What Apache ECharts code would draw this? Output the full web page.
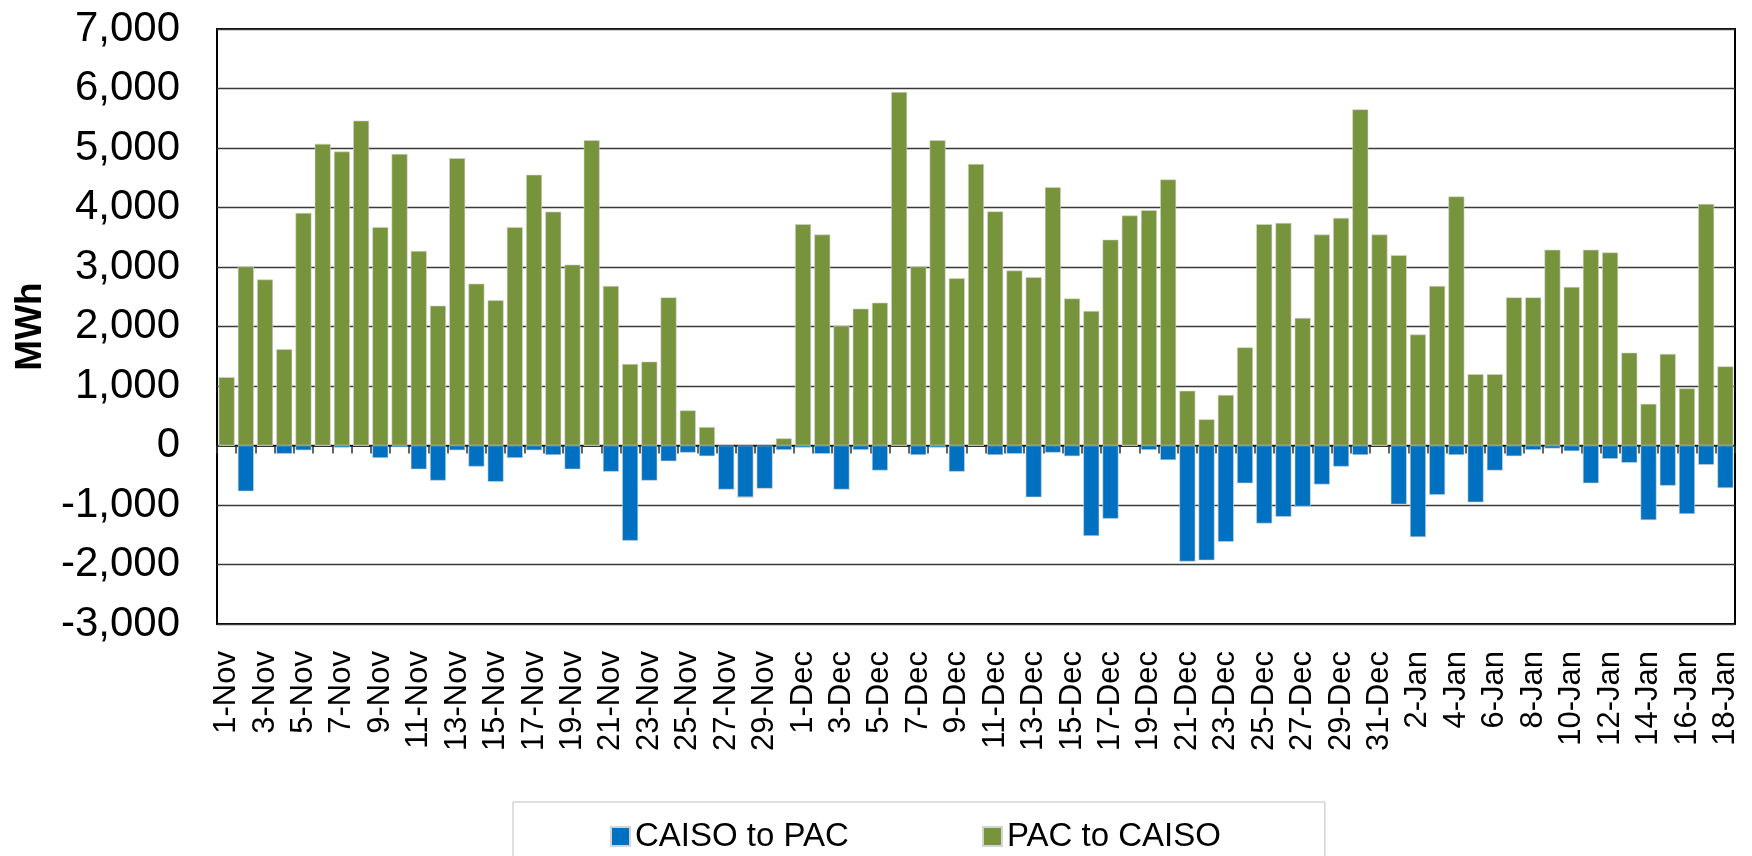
<!DOCTYPE html>
<html>
<head>
<meta charset="utf-8">
<script src="https://cdn.jsdelivr.net/npm/echarts@6/dist/echarts.min.js"></script>
<style>
  html, body { margin: 0; padding: 0; background: #fff; }
  #chart { width: 1752px; height: 856px; }
</style>
</head>
<body>
<div id="chart"></div>
<script>
// daily labels, 1-Nov .. 18-Jan
const days = [
  '1-Nov','2-Nov','3-Nov','4-Nov','5-Nov','6-Nov','7-Nov','8-Nov','9-Nov','10-Nov',
  '11-Nov','12-Nov','13-Nov','14-Nov','15-Nov','16-Nov','17-Nov','18-Nov','19-Nov','20-Nov',
  '21-Nov','22-Nov','23-Nov','24-Nov','25-Nov','26-Nov','27-Nov','28-Nov','29-Nov','30-Nov',
  '1-Dec','2-Dec','3-Dec','4-Dec','5-Dec','6-Dec','7-Dec','8-Dec','9-Dec','10-Dec',
  '11-Dec','12-Dec','13-Dec','14-Dec','15-Dec','16-Dec','17-Dec','18-Dec','19-Dec','20-Dec',
  '21-Dec','22-Dec','23-Dec','24-Dec','25-Dec','26-Dec','27-Dec','28-Dec','29-Dec','30-Dec','31-Dec',
  '1-Jan','2-Jan','3-Jan','4-Jan','5-Jan','6-Jan','7-Jan','8-Jan','9-Jan','10-Jan',
  '11-Jan','12-Jan','13-Jan','14-Jan','15-Jan','16-Jan','17-Jan','18-Jan'
];

// MWh, negative = CAISO to PAC
const caisoToPac = [
  0, -770, 0, -140, -80, 0, -35, 0, -210, -30,
  -400, -590, -80, -355, -610, -210, -80, -160, -400, 0,
  -440, -1600, -590, -265, -120, -180, -740, -870, -725, -75,
  -35, -140, -740, -75, -420, 0, -160, -35, -440, 0,
  -160, -140, -870, -120, -180, -1520, -1230, 0, -75, -245,
  -1950, -1930, -1620, -635, -1310, -1200, -1025, -655, -355, -160, 0,
  -990, -1540, -830, -160, -955, -420, -180, -75, -50, -95,
  -635, -225, -290, -1255, -675, -1150, -325, -715
];

const pacToCaiso = [
  1150, 3010, 2790, 1620, 3910, 5070, 4940, 5460, 3670, 4900,
  3270, 2350, 4830, 2720, 2440, 3670, 4550, 3930, 3040, 5130,
  2680, 1370, 1410, 2490, 590, 310, 0, 0, 0, 120,
  3720, 3545, 2010, 2300, 2400, 5940, 3010, 5130, 2810, 4730,
  3935, 2940, 2830, 4340, 2470, 2260, 3460, 3865, 3955, 4470,
  920, 440, 850, 1650, 3720, 3740, 2145, 3545, 3825, 5650, 3545,
  3200, 1865, 2680, 4185, 1200, 1200, 2490, 2490, 3290, 2665,
  3290, 3245, 1560, 700, 1540, 960, 4060, 1330
];

const font = "'Liberation Sans', Arial, sans-serif";

var myChart = echarts.init(document.getElementById('chart'));

const option = {
  animation: false,
  backgroundColor: '#fff',
  textStyle: { fontFamily: font, color: '#000' },
  grid: {
    left: 217, right: 17, top: 29, bottom: 232,
    show: true, borderColor: '#000', borderWidth: 2
  },
  legend: {
    data: ['CAISO to PAC', 'PAC to CAISO'],
    left: 513, top: 802,
    padding: [18, 104, 30, 97],
    itemGap: 133, itemWidth: 19, itemHeight: 19,
    icon: 'rect',
    borderColor: '#bfbfbf', borderWidth: 1,
    textStyle: { fontSize: 33, fontFamily: font, color: '#000' }
  },
  xAxis: [
    {
      type: 'category', data: days, position: 'bottom',
      axisLine: { onZero: false, show: false },
      axisTick: { show: false },
      axisLabel: { interval: 1, rotate: 90, fontSize: 31, margin: 27, color: '#000', fontFamily: font },
      splitLine: { show: false }
    },
    {
      // tick marks sit on the zero line
      type: 'category', data: days, position: 'bottom',
      axisLine: { onZero: true, lineStyle: { color: '#000', width: 1.5 } },
      axisTick: { show: true, interval: 0, length: 8, lineStyle: { color: '#333', width: 1.5 } },
      axisLabel: { show: false }
    }
  ],
  yAxis: {
    type: 'value', min: -3000, max: 7000, interval: 1000,
    name: 'MWh', nameLocation: 'middle', nameGap: 168, nameRotate: 90,
    nameTextStyle: { fontSize: 37, fontWeight: 'bold', color: '#000', fontFamily: font },
    axisLine: { show: false },
    axisTick: { show: false },
    axisLabel: {
      fontSize: 42, margin: 37, color: '#000', fontFamily: font,
      formatter: v => v.toLocaleString('en-US')
    },
    splitLine: { lineStyle: { color: '#3a3a3a', width: 1.3 } }
  },
  series: [
    {
      name: 'CAISO to PAC', type: 'bar', stack: 'flow', data: caisoToPac,
      barCategoryGap: '17%',
      itemStyle: { color: '#0070C0', borderColor: '#d4d4d4', borderWidth: 0.6 }
    },
    {
      name: 'PAC to CAISO', type: 'bar', stack: 'flow', data: pacToCaiso,
      barCategoryGap: '17%',
      itemStyle: { color: '#77933C', borderColor: '#d4d4d4', borderWidth: 0.6 }
    }
  ]
};

myChart.setOption(option);
window.addEventListener('resize', () => myChart.resize());
</script>
</body>
</html>
